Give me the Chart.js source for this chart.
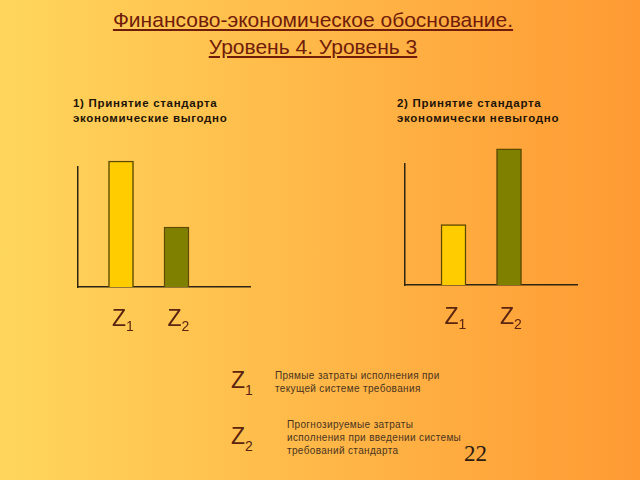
<!DOCTYPE html>
<html>
<head>
<meta charset="utf-8">
<script src="https://cdn.jsdelivr.net/npm/chart.js@4/dist/chart.umd.min.js"></script>
<style>
  html, body { margin: 0; padding: 0; }
  body {
    width: 640px; height: 480px; overflow: hidden; position: relative;
    background: linear-gradient(to right, #ffd65c, #ff9a33);
    font-family: "Liberation Sans", Arial, sans-serif;
  }
  .abs { position: absolute; }
  #title {
    left: 0; width: 626px; top: 6px; text-align: center;
    font-size: 21px; line-height: 27px; color: #701c0a; text-decoration: underline;
  }
  .sub { font-size: 11.5px; line-height: 15px; font-weight: bold; color: #1e1408; letter-spacing: 0.7px; }
  .z { font-size: 23px; color: #5a2410; }
  .z sub { font-size: 14px; vertical-align: -7px; }
  .leg { font-size: 10px; line-height: 13px; color: #4a3420; letter-spacing: 0.35px; }
  #page { left: 464px; top: 441px; font-family: "Liberation Serif", serif; font-size: 23px; color: #2a1a10; }
</style>
</head>
<body>
<div id="title" class="abs">Финансово-экономическое обоснование.<br>Уровень 4. Уровень 3</div>

<div class="abs sub" style="left:73px; top:96px;">1) Принятие стандарта<br>экономические выгодно</div>
<div class="abs sub" style="left:397px; top:96px;">2) Принятие стандарта<br>экономически невыгодно</div>

<canvas id="chart1" class="abs" width="210" height="200" style="left:60px; top:140px;"></canvas>
<canvas id="chart2" class="abs" width="210" height="200" style="left:390px; top:140px;"></canvas>

<div class="abs z" style="left:231px; top:367px;">Z<sub>1</sub></div>
<div class="abs leg" style="left:275px; top:369px;">Прямые затраты исполнения при<br>текущей системе требования</div>
<div class="abs z" style="left:231px; top:423px;">Z<sub>2</sub></div>
<div class="abs leg" style="left:287px; top:418px;">Прогнозируемые затраты<br>исполнения при введении системы<br>требований стандарта</div>
<div id="page" class="abs">22</div>

<script>
// categories and values (axis top = 120)
const categories = ['1', '2'];          // subscripts of Z
const beneficial = [126, 60];           // 1) standard is profitable
const unprofitable = [60, 135];         // 2) standard is unprofitable
const barColors = ['#ffcc00', '#808000'];

const subLabels = {
    id: 'subLabels',
    afterDraw(chart) {
        const ctx = chart.ctx;
        const xs = chart.scales.x;
        const base = chart.chartArea.bottom;
        ctx.save();
        ctx.fillStyle = '#5a2410';
        categories.forEach((c, i) => {
            const px = xs.getPixelForValue(i);
            ctx.font = '23px "Liberation Sans", Arial';
            ctx.textAlign = 'right';
            ctx.fillText('Z', px + 5, base + 39);
            ctx.font = '14px "Liberation Sans", Arial';
            ctx.textAlign = 'left';
            ctx.fillText(c, px + 5, base + 44);
        });
        ctx.restore();
    }
};

function makeChart(id, values, xMin, xMax, pad) {
    const ctx = document.getElementById(id).getContext('2d');
    return new Chart(ctx, {
        type: 'bar',
        data: {
            datasets: [{
                data: values.map((v, i) => ({ x: i, y: v })),
                backgroundColor: barColors,
                borderColor: '#5c4a00',
                borderWidth: 1.5,
                barThickness: 25,
                clip: false
            }]
        },
        options: {
            responsive: false,
            animation: false,
            layout: { padding: pad },
            plugins: { legend: { display: false }, tooltip: { enabled: false } },
            scales: {
                x: {
                    type: 'linear', min: xMin, max: xMax, offset: false,
                    ticks: { display: false },
                    grid: { display: false, drawTicks: false },
                    border: { color: '#2e2412', width: 1.5 }
                },
                y: {
                    min: 0, max: 120,
                    ticks: { display: false },
                    grid: { display: false, drawTicks: false },
                    border: { color: '#2e2412', width: 1.5 }
                }
            }
        },
        plugins: [subLabels]
    });
}

makeChart('chart1', beneficial, -0.775, 2.325, { left: 18, top: 27, right: 20, bottom: 53 });
makeChart('chart2', unprofitable, -0.874, 2.225, { left: 15, top: 24, right: 23, bottom: 55 });
</script>
</body>
</html>
